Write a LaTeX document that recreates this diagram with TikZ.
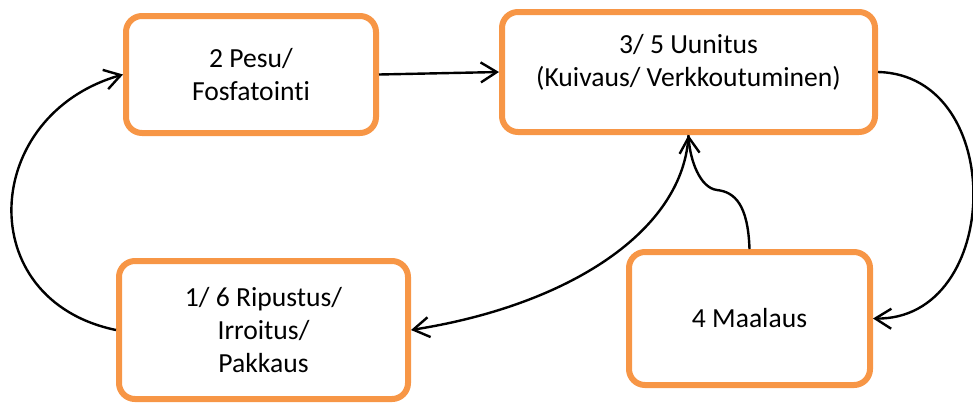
\documentclass[tikz,border=0pt]{standalone}
\usepackage{fontspec}
\setmainfont{Carlito}[Ligatures = NoCommon]
\usetikzlibrary{arrows.meta}
\definecolor{stageorange}{HTML}{F79646}
\tikzset{
  stagetext/.style = {align = center, font = \fontsize{13.8}{16.5}\selectfont},
  stage/.style = {stagetext, draw = stageorange, line width = 3pt, rounded corners = 8pt},
  flow/.style = {line width = 1.2pt, -{Straight Barb[length = 8pt, width = 10pt]}}
}

\begin{document}
\begin{tikzpicture}[x = 0.5pt, y = -0.5pt]
      \useasboundingbox (0, 0) rectangle (973, 403);
      \node [stage, minimum width = 125pt, minimum height = 58.5pt] (pesu) at (251, 74.5) {2 Pesu/\\Fosfatointi};
      \node [stage, minimum width = 186.5pt, minimum height = 60pt] (uunitus) at (688.5, 72) {};
      \node [stagetext] (uunitusteksti) at (688.5, 62) {3/ 5 Uunitus\\(Kuivaus/ Verkkoutuminen)};
      \node [stage, minimum width = 144.5pt, minimum height = 69pt] (ripustus) at (263.5, 330) {1/ 6 Ripustus/\\Irroitus/\\Pakkaus};
      \node [stage, minimum width = 120.5pt, minimum height = 66.5pt] (maalaus) at (749.5, 318.5) {4 Maalaus};
      \coordinate (mutka) at (717, 190);
      \draw [flow] (pesu.east) -- (uunitus.west);
      \draw [flow] (uunitus.east) .. controls (1008, 75) and (1003, 320) .. (maalaus.east);
      \draw [flow] (maalaus.north) .. controls (748, 205) and (735, 192) .. (mutka)
        .. controls (700, 188) and (690, 160) .. (uunitus.south);
      \draw [flow] (uunitus.south) .. controls (684, 230) and (570, 305) .. (ripustus.east);
      \draw [flow] (ripustus.west) .. controls (-29, 300) and (-19, 115) .. (pesu.west);
    \end{tikzpicture}
\end{document}
